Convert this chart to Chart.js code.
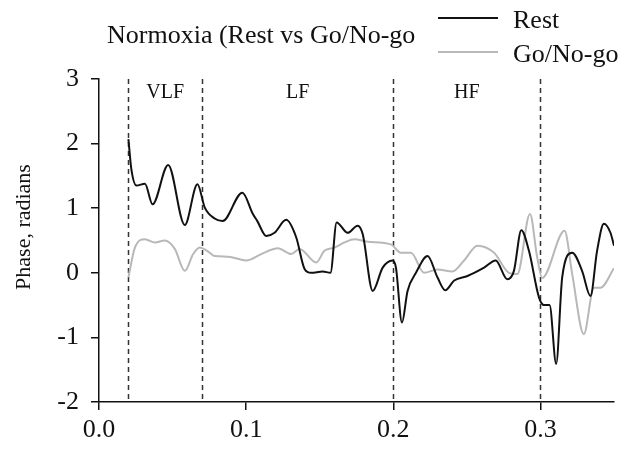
<!DOCTYPE html>
<html>
<head>
<meta charset="utf-8">
<script src="https://cdn.jsdelivr.net/npm/chart.js@4.4.1/dist/chart.umd.min.js"></script>
<style>
  body { margin: 0; background: #fff; }
</style>
</head>
<body>
<canvas id="grafico" width="626" height="456"></canvas>
<script>
// Rest (black)
const restX = [0.020, 0.022, 0.0255, 0.0312, 0.0364, 0.047, 0.0583, 0.0669, 0.0719, 0.0786, 0.084,
  0.0974, 0.1046, 0.1076, 0.1137, 0.1193, 0.1272, 0.134, 0.1397, 0.1442, 0.152, 0.1573, 0.1615,
  0.169, 0.1758, 0.1792, 0.186, 0.1928, 0.1995, 0.2018, 0.2059, 0.2097, 0.2154, 0.2233, 0.230,
  0.2353, 0.2414, 0.2504, 0.2617, 0.2696, 0.2775, 0.282, 0.287, 0.2922, 0.299, 0.3024, 0.3062,
  0.3107, 0.3148, 0.3216, 0.3283, 0.334, 0.3385, 0.3431, 0.3476, 0.350];
const restY = [2.07, 1.60, 1.35, 1.38, 1.06, 1.67, 0.74, 1.37, 1.01, 0.84, 0.80,
  1.24, 0.91, 0.80, 0.57, 0.62, 0.82, 0.55, 0.06, 0.00, 0.02, 0.00, 0.78,
  0.62, 0.73, 0.60, -0.28, 0.08, 0.19, 0.08, -0.77, -0.28, 0.00, 0.26, -0.07,
  -0.27, -0.12, -0.05, 0.08, 0.19, -0.10, 0.03, 0.66, 0.34, -0.38, -0.50, -0.50,
  -1.41, -0.07, 0.31, 0.03, -0.36, 0.34, 0.76, 0.62, 0.42];

// Go/No-go (grey)
const goX = [0.020, 0.0244, 0.0312, 0.038, 0.0447, 0.0515, 0.0583, 0.064, 0.0685, 0.0753, 0.0786,
  0.0877, 0.1001, 0.1103, 0.1216, 0.1306, 0.1363, 0.1476, 0.1532, 0.160, 0.1668, 0.1736, 0.1826,
  0.1984, 0.2052, 0.212, 0.221, 0.230, 0.2402, 0.2481, 0.2572, 0.2685, 0.2786, 0.2843, 0.2929,
  0.2978, 0.3012, 0.3164, 0.3216, 0.3295, 0.3363, 0.3408, 0.350];
const goY = [-0.07, 0.39, 0.52, 0.47, 0.50, 0.37, 0.03, 0.29, 0.39, 0.31, 0.26,
  0.25, 0.19, 0.29, 0.38, 0.29, 0.37, 0.16, 0.34, 0.39, 0.47, 0.52, 0.48,
  0.44, 0.31, 0.31, 0.00, 0.05, 0.02, 0.19, 0.42, 0.31, 0.00, -0.02, 0.91,
  0.24, -0.08, 0.65, -0.02, -0.95, -0.23, -0.23, 0.07];

const xTicks = [0, 0.1, 0.2, 0.3];
const bandEdges = [0.02, 0.07, 0.2, 0.3];
const bandNames = ["VLF", "LF", "HF"];
const chartTitle = "Normoxia (Rest vs Go/No-go";
const yTitle = "Phase, radians";
const seriesNames = ["Rest", "Go/No-go"];
const seriesColors = ["#111111", "#b8b8b8"];

const serif = '"Liberation Serif", "Times New Roman", serif';
const toPoints = (xs, ys) => xs.map((x, i) => ({ x: x, y: ys[i] }));

// lineas punteadas de bandas, titulo y leyenda
const extras = {
  id: "extras",
  beforeDatasetsDraw(chart) {
    const { ctx, chartArea, scales } = chart;
    ctx.save();
    ctx.strokeStyle = "#333";
    ctx.lineWidth = 1.5;
    ctx.setLineDash([5, 4]);
    bandEdges.forEach(v => {
      const px = Math.round(scales.x.getPixelForValue(v)) + 0.5;
      ctx.beginPath();
      ctx.moveTo(px, chartArea.top);
      ctx.lineTo(px, chartArea.bottom);
      ctx.stroke();
    });
    ctx.setLineDash([]);
    ctx.fillStyle = "#111";
    ctx.font = "20px " + serif;
    ctx.textAlign = "center";
    ctx.textBaseline = "alphabetic";
    bandNames.forEach((name, i) => {
      const mid = (bandEdges[i] + bandEdges[i + 1]) / 2;
      ctx.fillText(name, scales.x.getPixelForValue(mid), chartArea.top + 19);
    });
    ctx.restore();
  },
  afterDraw(chart) {
    const { ctx } = chart;
    ctx.save();
    ctx.fillStyle = "#111";
    ctx.font = "26px " + serif;
    ctx.textAlign = "left";
    ctx.textBaseline = "alphabetic";
    ctx.fillText(chartTitle, 107, 43);

    seriesNames.forEach((name, i) => {
      const y = 18 + i * 34;
      ctx.strokeStyle = seriesColors[i];
      ctx.lineWidth = 2;
      ctx.beginPath();
      ctx.moveTo(438, y);
      ctx.lineTo(498, y);
      ctx.stroke();
      ctx.fillText(name, 513, y + 10);
    });

    ctx.translate(24, 227);
    ctx.rotate(-Math.PI / 2);
    ctx.font = "22px " + serif;
    ctx.textAlign = "center";
    ctx.textBaseline = "middle";
    ctx.fillText(yTitle, 0, 0);
    ctx.restore();
  }
};

const axisStyle = {
  grid: { display: true, drawOnChartArea: false, drawTicks: true, tickLength: 8, color: "#111", lineWidth: 1.5 },
  border: { display: true, color: "#111", width: 1.5 }
};

new Chart(document.getElementById("grafico").getContext("2d"), {
  type: "line",
  data: {
    datasets: [
      {
        label: seriesNames[0],
        data: toPoints(restX, restY),
        borderColor: seriesColors[0],
        borderWidth: 2,
        pointRadius: 0,
        cubicInterpolationMode: "monotone",
        order: 1
      },
      {
        label: seriesNames[1],
        data: toPoints(goX, goY),
        borderColor: seriesColors[1],
        borderWidth: 2,
        pointRadius: 0,
        cubicInterpolationMode: "monotone",
        order: 2
      }
    ]
  },
  plugins: [extras],
  options: {
    responsive: false,
    animation: false,
    layout: { padding: { top: 79, right: 12, left: 0, bottom: 0 } },
    plugins: {
      legend: { display: false },
      title: { display: false },
      tooltip: { enabled: false }
    },
    scales: {
      x: {
        type: "linear",
        min: 0,
        max: 0.35,
        ...axisStyle,
        afterBuildTicks: scale => { scale.ticks = xTicks.map(v => ({ value: v })); },
        afterFit: scale => { scale.height = 54; },
        ticks: {
          padding: 5,
          color: "#111",
          font: { family: serif, size: 26 },
          callback: v => v.toFixed(1)
        }
      },
      y: {
        type: "linear",
        min: -2,
        max: 3,
        ...axisStyle,
        afterFit: scale => { scale.width = 99; },
        ticks: {
          stepSize: 1,
          padding: 12,
          color: "#111",
          font: { family: serif, size: 26 }
        }
      }
    }
  }
});
</script>
</body>
</html>
